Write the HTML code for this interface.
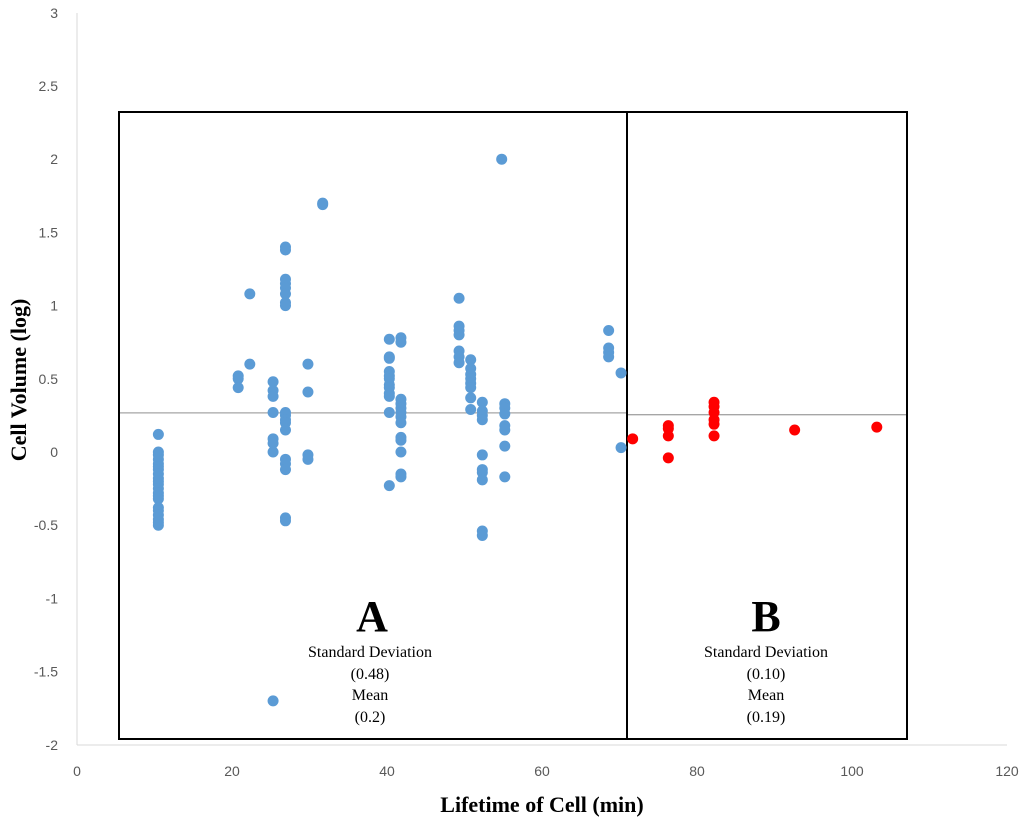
<!DOCTYPE html>
<html><head><meta charset="utf-8"><style>
body{margin:0;background:#fff}
svg text{font-family:"Liberation Sans",sans-serif}
.s{font-family:"Liberation Serif",serif}
</style></head><body>
<svg width="1024" height="826">
<line x1="77" y1="13" x2="77" y2="745" stroke="#d9d9d9" stroke-width="1"/>
<line x1="77" y1="745" x2="1007" y2="745" stroke="#d9d9d9" stroke-width="1"/>
<g id="ticks"></g>
<rect x="119" y="112" width="508" height="627" fill="none" stroke="#000" stroke-width="2"/>
<rect x="627" y="112" width="280" height="627" fill="none" stroke="#000" stroke-width="2"/>
<g id="meanlines"></g>
<g id="pts"></g>
<text class="s" x="372" y="631" font-size="44" font-weight="bold" text-anchor="middle">A</text>
<text class="s" x="370" y="657" font-size="16" text-anchor="middle">Standard Deviation</text>
<text class="s" x="370" y="679" font-size="16" text-anchor="middle">(0.48)</text>
<text class="s" x="370" y="700" font-size="16" text-anchor="middle">Mean</text>
<text class="s" x="370" y="722" font-size="16" text-anchor="middle">(0.2)</text>
<text class="s" x="766" y="631" font-size="44" font-weight="bold" text-anchor="middle">B</text>
<text class="s" x="766" y="657" font-size="16" text-anchor="middle">Standard Deviation</text>
<text class="s" x="766" y="679" font-size="16" text-anchor="middle">(0.10)</text>
<text class="s" x="766" y="700" font-size="16" text-anchor="middle">Mean</text>
<text class="s" x="766" y="722" font-size="16" text-anchor="middle">(0.19)</text>
<text class="s" x="542" y="812" font-size="22" font-weight="bold" text-anchor="middle">Lifetime of Cell (min)</text>
<text class="s" x="0" y="0" font-size="22" font-weight="bold" text-anchor="middle" transform="translate(26,380) rotate(-90)">Cell Volume (log)</text>
</svg>
<script>
const xTicks=[0,20,40,60,80,100,120];
const yTicks=[3,2.5,2,1.5,1,0.5,0,-0.5,-1,-1.5,-2];
const meansA=[0.267];const meansB=[0.255];
const blueX=[10.5,20.8,22.3,25.3,26.9,29.8,31.7,40.3,41.8,49.3,50.8,52.3,54.8,55.2,68.6,70.2];
const blueY=[
[0.12,0,-0.02,-0.05,-0.08,-0.1,-0.12,-0.15,-0.18,-0.2,-0.22,-0.25,-0.28,-0.3,-0.32,-0.38,-0.4,-0.43,-0.46,-0.48,-0.5],
[0.52,0.5,0.44],[1.08,0.6],[0.48,0.42,0.38,0.27,0.09,0.06,0,-1.7],
[1.4,1.38,1.18,1.15,1.12,1.08,1.02,1.0,0.27,0.25,0.22,0.2,0.15,-0.05,-0.08,-0.12,-0.45,-0.47],
[0.6,0.41,-0.02,-0.05],[1.7,1.69],
[0.77,0.65,0.64,0.55,0.52,0.5,0.46,0.44,0.4,0.38,0.27,-0.23],
[0.78,0.75,0.36,0.33,0.3,0.27,0.24,0.2,0.1,0.08,0,-0.15,-0.17],
[1.05,0.86,0.83,0.8,0.69,0.65,0.61],
[0.63,0.57,0.53,0.5,0.47,0.44,0.37,0.29],
[0.34,0.28,0.25,0.22,-0.02,-0.12,-0.14,-0.19,-0.54,-0.57],
[2.0],[0.33,0.3,0.26,0.18,0.15,0.04,-0.17],[0.83,0.71,0.68,0.65],[0.54,0.03]];
const redX=[71.7,76.3,82.2,92.6,103.2];
const redY=[[0.09],[0.18,0.16,0.11,-0.04],[0.34,0.31,0.27,0.22,0.19,0.11],[0.15],[0.17]];
const X=v=>77+v*7.75, Y=v=>452-v*146.4;
const NS="http://www.w3.org/2000/svg";
function mk(t,a,p){const e=document.createElementNS(NS,t);for(const k in a)e.setAttribute(k,a[k]);p.appendChild(e);return e;}
const tk=document.getElementById('ticks');
xTicks.forEach(v=>{const t=mk('text',{x:X(v),y:776,'font-size':14,fill:'#595959','text-anchor':'middle'},tk);t.textContent=v;

});
yTicks.forEach(v=>{const t=mk('text',{x:58,y:Y(v)+5,'font-size':14,fill:'#595959','text-anchor':'end'},tk);t.textContent=v;

});
const ml=document.getElementById('meanlines');
meansA.forEach(m=>{const l=mk('line',{x1:120,x2:626,y1:Y(m),y2:Y(m),stroke:'#a6a6a6','stroke-width':1.3},ml);

});
meansB.forEach(m=>{const l=mk('line',{x1:628,x2:906,y1:Y(m),y2:Y(m),stroke:'#a6a6a6','stroke-width':1.3},ml);

});
const pg=document.getElementById('pts');
blueX.forEach((x,i)=>blueY[i].forEach(y=>{const c=mk('circle',{cx:X(x),cy:Y(y),r:5.5,fill:'#5b9bd5'},pg);

}));
redX.forEach((x,i)=>redY[i].forEach(y=>{const c=mk('circle',{cx:X(x),cy:Y(y),r:5.5,fill:'#ff0000'},pg);

}));
</script>
</body></html>
